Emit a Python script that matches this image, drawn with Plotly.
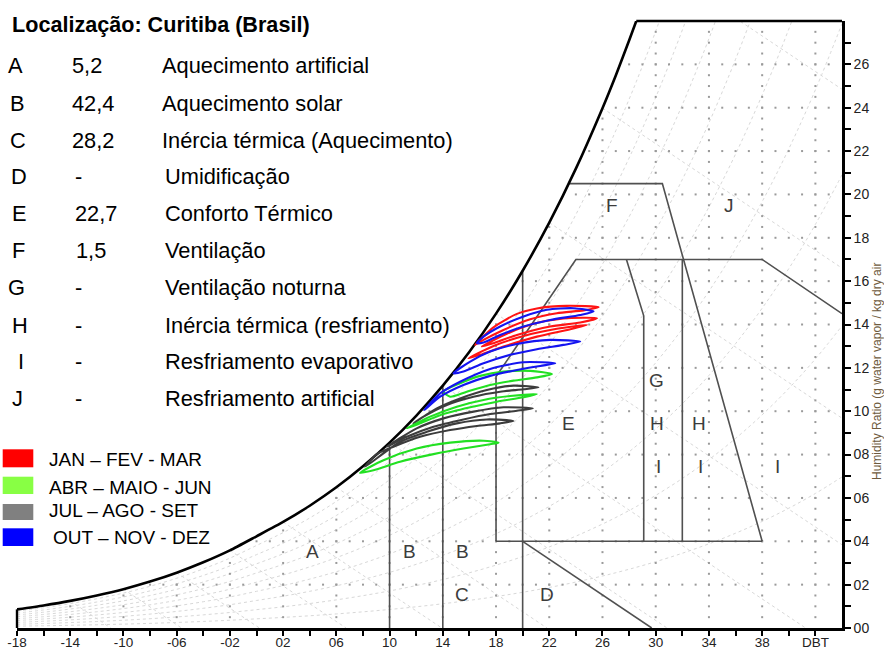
import numpy as np
import plotly.graph_objects as go

# ---------------------------------------------------------------- data
# Saturation humidity ratio (g/kg dry air) vs dry-bulb temperature (°C)
sat_T = [-18, -16, -14, -12, -10, -8, -6, -4, -2, 0, 2, 4, 6, 8, 10, 12, 14, 16,
         18, 20, 22, 24, 26, 27, 28, 28.54, 30, 32, 34, 36, 38, 40, 42, 44]
sat_W = [0.86, 1.04, 1.25, 1.50, 1.79, 2.14, 2.55, 3.03, 3.58, 4.23, 4.89, 5.64,
         6.49, 7.46, 8.55, 9.79, 11.18, 12.74, 14.50, 16.48, 18.70, 21.19, 23.98,
         25.49, 27.10, 28.00, 30.59, 34.48, 38.84, 43.72, 49.17, 55.25, 62.06, 69.68]

# Hourly daily cycles per month: dry-bulb (°C) and humidity ratio (g/kg)
jan_t = [16.43, 17.81, 19.57, 21.07, 23.32, 25.71, 24.58, 22.57, 20.57, 18.56, 17.06, 16.43]
jan_w = [13.06, 13.87, 14.49, 14.74, 14.86, 14.80, 14.65, 14.52, 14.24, 13.75, 13.29, 13.06]
fev_t = [16.93, 18.81, 20.82, 23.07, 25.58, 24.33, 22.07, 19.57, 17.81, 16.93]
fev_w = [12.98, 13.57, 14.03, 14.28, 14.29, 14.09, 13.91, 13.52, 13.14, 12.98]
mar_t = [15.93, 17.81, 20.07, 22.57, 24.85, 23.58, 21.07, 18.56, 16.81, 15.93]
mar_w = [12.44, 13.01, 13.47, 13.80, 13.98, 13.78, 13.44, 12.98, 12.60, 12.44]

abr_t = [14.05, 15.30, 16.81, 18.56, 20.57, 22.20, 21.07, 19.31, 17.56, 15.80, 14.55, 14.05]
abr_w = [10.90, 11.29, 11.63, 11.83, 11.86, 11.72, 11.56, 11.41, 11.21, 10.90, 10.67, 10.90]
mai_t = [11.29, 13.05, 15.05, 17.06, 19.06, 21.07, 20.07, 18.06, 16.06, 14.05, 12.29, 11.29]
mai_w = [9.21, 9.75, 10.21, 10.52, 10.70, 10.79, 10.64, 10.44, 10.18, 9.87, 9.44, 9.21]
jun_t = [7.78, 9.54, 12.04, 14.55, 17.06, 18.19, 17.56, 15.55, 13.30, 10.79, 8.79, 7.78]
jun_w = [7.16, 7.74, 8.28, 8.55, 8.64, 8.55, 8.48, 8.28, 8.02, 7.67, 7.28, 7.16]

jul_t = [8.16, 10.79, 12.80, 15.05, 17.31, 19.31, 18.31, 16.56, 14.55, 12.29, 10.29, 9.04, 8.16]
jul_w = [7.44, 8.59, 9.05, 9.44, 9.62, 9.55, 9.44, 9.32, 9.13, 8.82, 8.36, 8.02, 7.44]
ago_t = [9.79, 12.04, 14.05, 16.31, 18.56, 20.77, 19.57, 17.56, 15.55, 13.30, 11.29, 9.79]
ago_w = [8.36, 9.21, 9.67, 9.98, 10.18, 10.13, 10.02, 9.87, 9.62, 9.28, 8.82, 8.36]
set_t = [11.79, 13.55, 15.30, 17.31, 19.31, 21.19, 20.07, 18.31, 16.31, 14.30, 12.55, 11.79]
set_w = [9.44, 10.13, 10.59, 10.98, 11.18, 11.10, 11.01, 10.90, 10.67, 10.29, 9.75, 9.44]

out_t = [12.60, 13.80, 15.30, 17.56, 20.07, 22.45, 21.32, 19.57, 17.56, 15.55, 13.80, 12.60]
out_w = [10.05, 10.82, 11.36, 11.95, 12.26, 12.21, 12.09, 11.90, 11.63, 11.21, 10.67, 10.05]
nov_t = [14.80, 16.06, 17.56, 19.57, 22.07, 24.33, 23.07, 21.07, 19.06, 17.06, 15.55, 14.80]
nov_w = [11.75, 12.29, 12.75, 13.10, 13.29, 13.21, 13.06, 12.86, 12.60, 12.21, 11.83, 11.75]
dez_t = [16.56, 17.06, 18.31, 20.07, 21.82, 23.83, 25.33, 24.33, 22.07, 20.07, 18.31, 17.06, 16.56]
dez_w = [13.14, 13.44, 13.91, 14.37, 14.68, 14.75, 14.60, 14.44, 14.21, 13.91, 13.52, 13.17, 13.14]

# Bioclimatic zone boundaries (°C, g/kg); None separates polylines
zone_t = [10, 10, None, 14, 14, None, 20, 20, None,
          18, 18, 24, 38, 44, None, 18, 38, None,
          38, 30.5, 23.45, None, 27.8, 29.1, 29.1, None,
          32, 32, None, 20, 29.7]
zone_w = [0, 8.55, None, 0, 11.18, None, 0, 16.48, None,
          4, 11.6, 17, 17, 14.5, None, 4, 4, None,
          4, 20.5, 20.5, None, 17, 14.4, 4, None,
          4, 17, None, 4, 0]

zone_labels = ["A", "B", "B", "C", "D", "E", "F", "G", "H", "H", "I", "I", "I", "J"]
zone_label_t = [4.24, 11.46, 15.45, 15.45, 21.84, 23.42, 26.73, 30.04, 30.11, 33.27, 30.19, 33.35, 39.14, 35.53]
zone_label_w = [3.54, 3.54, 3.54, 1.55, 1.55, 9.45, 19.48, 11.44, 9.45, 9.45, 7.46, 7.46, 7.46, 19.48]

# Share of annual hours per strategy (%)
strategy_codes = ["A", "B", "C", "D", "E", "F", "G", "H", "I", "J"]
strategy_values = ["5,2", "42,4", "28,2", "-", "22,7", "1,5", "-", "-", "-", "-"]
strategy_names = ["Aquecimento artificial", "Aquecimento solar",
                  "Inércia térmica (Aquecimento)", "Umidificação",
                  "Conforto Térmico", "Ventilação", "Ventilação noturna",
                  "Inércia térmica (resfriamento)", "Resfriamento evaporativo",
                  "Resfriamento artificial"]

season_labels = ["JAN – FEV - MAR", "ABR – MAIO - JUN", "JUL – AGO - SET", "OUT – NOV - DEZ"]

x_tick_vals = list(range(-18, 43, 2))
x_tick_text = ["-18", "", "-14", "", "-10", "", "-06", "", "-02", "", "02", "", "06", "",
               "10", "", "14", "", "18", "", "22", "", "26", "", "30", "", "34", "",
               "38", "", "DBT"]
y_tick_vals = list(range(0, 28))
y_tick_text = [f"{v:02d}" if v % 2 == 0 else "" for v in y_tick_vals]

# ---------------------------------------------------------------- layout helpers
FIG_W, FIG_H = 884, 650
M_L, M_R, M_T, M_B = 17, 42, 21, 22
PLOT_W = FIG_W - M_L - M_R
PLOT_H = FIG_H - M_T - M_B
T_MIN, T_MAX = -18, 44
W_MIN, W_MAX = 0, 28
FONT = "Liberation Sans, Arial, sans-serif"


def px(xp):
    return (xp - M_L) / PLOT_W


def py(yp):
    return (FIG_H - M_B - yp) / PLOT_H


def tx(t):
    return (t - T_MIN) / (T_MAX - T_MIN)


fig = go.Figure()

# ---------------------------------------------------------------- psychrometric background
# relative humidity curves (10 % ... 90 %)
for rh in [0.1, 0.2, 0.3, 0.4, 0.5, 0.6, 0.7, 0.8, 0.9]:
    fig.add_trace(go.Scatter(
        x=sat_T, y=[rh * w for w in sat_W], mode="lines",
        line=dict(color="#d8d8d8", width=1, dash="dot", shape="spline"),
        hoverinfo="skip", showlegend=False))

# wet-bulb lines every 4 °C
for twb in range(-14, 31, 4):
    w0 = sat_W[sat_T.index(twb)]
    fig.add_trace(go.Scatter(
        x=[twb, twb + w0 / 0.41], y=[w0, 0], mode="lines",
        line=dict(color="#d8d8d8", width=1, dash="dot"),
        hoverinfo="skip", showlegend=False))

# dotted grid under the saturation curve
dot_t, dot_w = [], []
for t in range(-14, 43, 4):
    top = np.interp(t, sat_T, sat_W)
    for w in np.arange(0.5, top - 0.1, 0.5):
        dot_t.append(t)
        dot_w.append(w)
for w in range(2, 27, 2):
    t0 = np.interp(w, sat_W, sat_T)
    for t in range(int(np.ceil(t0 + 0.3)), 44):
        dot_t.append(t)
        dot_w.append(w)
fig.add_trace(go.Scatter(
    x=dot_t, y=dot_w, mode="markers",
    marker=dict(symbol="square", size=2, color="#9a9a9a", line=dict(width=0)),
    hoverinfo="skip", showlegend=False))

# zone boundaries
fig.add_trace(go.Scatter(
    x=zone_t, y=zone_w, mode="lines",
    line=dict(color="#505050", width=1.6),
    hoverinfo="skip", showlegend=False))

# saturation curve
n_sat = sat_T.index(28.54) + 1
fig.add_trace(go.Scatter(
    x=sat_T[:n_sat], y=sat_W[:n_sat], mode="lines",
    line=dict(color="black", width=2.6, shape="spline", smoothing=0.6),
    hoverinfo="skip", showlegend=False))

# ---------------------------------------------------------------- monthly cycles
loops = [
    (jul_t, jul_w, "#3c3c3c"), (ago_t, ago_w, "#3c3c3c"), (set_t, set_w, "#3c3c3c"),
    (abr_t, abr_w, "#22e022"), (mai_t, mai_w, "#22e022"), (jun_t, jun_w, "#22e022"),
    (jan_t, jan_w, "#ff1414"), (fev_t, fev_w, "#ff1414"), (mar_t, mar_w, "#ff1414"),
    (out_t, out_w, "#1414f0"), (nov_t, nov_w, "#1414f0"), (dez_t, dez_w, "#1414f0"),
]
for lt, lw, col in loops:
    fig.add_trace(go.Scatter(
        x=lt, y=lw, mode="lines",
        line=dict(color=col, width=2.1, shape="spline", smoothing=0.7),
        hoverinfo="skip", showlegend=False))

# ---------------------------------------------------------------- frame pieces
shapes = [
    # top border from the saturation curve to the right axis
    dict(type="line", xref="paper", yref="paper", x0=tx(28.54), x1=1.0, y0=1.0, y1=1.0,
         line=dict(color="black", width=2.4)),
    # left border under the saturation curve
    dict(type="line", xref="paper", yref="y", x0=0, x1=0, y0=0, y1=sat_W[0],
         line=dict(color="black", width=2.4)),
]

# legend swatches
swatch_colors = ["#ff0000", "#88ff44", "#808080", "#0000ff"]
swatch_px = [(449.3, 467.3), (476.7, 494.0), (504.0, 520.0), (528.3, 546.0)]
for col, (y0, y1) in zip(swatch_colors, swatch_px):
    shapes.append(dict(type="rect", xref="paper", yref="paper",
                       x0=px(2.7), x1=px(33.3), y0=py(y1), y1=py(y0),
                       fillcolor=col, line=dict(width=0)))

annotations = []

# title
annotations.append(dict(
    text="<b>Localização: Curitiba (Brasil)</b>", xref="paper", yref="paper",
    x=px(9.5), y=py(24), xanchor="left", yanchor="middle", showarrow=False,
    font=dict(family=FONT, size=21.6, color="black")))

# strategy table
row_y = [65.7, 103.3, 140.0, 176.7, 213.3, 250.7, 287.3, 325.0, 361.7, 398.3]
code_x = [6, 8, 8, 9, 10, 10, 6, 10, 16, 10]
value_x = [70, 70, 70, 73, 73, 74, 73, 73, 73, 73]
name_x = [160, 160, 160, 163, 163, 163, 163, 163, 163, 163]
for i in range(len(strategy_codes)):
    for txt, xx in ((strategy_codes[i], code_x[i]), (strategy_values[i], value_x[i]),
                    (strategy_names[i], name_x[i])):
        annotations.append(dict(
            text=txt, xref="paper", yref="paper", x=px(xx), y=py(row_y[i]),
            xanchor="left", yanchor="middle", showarrow=False,
            font=dict(family=FONT, size=21.8, color="black")))

# season legend text
legend_y = [459.3, 487.0, 510.0, 537.3]
legend_x = [47, 47, 47, 51]
for lab, yy, xx in zip(season_labels, legend_y, legend_x):
    annotations.append(dict(
        text=lab, xref="paper", yref="paper", x=px(xx), y=py(yy),
        xanchor="left", yanchor="middle", showarrow=False,
        font=dict(family=FONT, size=19, color="black")))

# zone letters
for lab, t, w in zip(zone_labels, zone_label_t, zone_label_w):
    annotations.append(dict(
        text=lab, x=t, y=w, xref="x", yref="y", xanchor="center", yanchor="middle",
        showarrow=False, font=dict(family=FONT, size=19, color="#3c3c3c")))

# right axis title
annotations.append(dict(
    text="Humidity Ratio (g water vapor / kg dry air", xref="paper", yref="paper",
    x=px(877), y=py(372), xanchor="center", yanchor="middle", textangle=-90,
    showarrow=False, font=dict(family=FONT, size=12, color="#6e5a3c")))

fig.update_layout(
    width=FIG_W, height=FIG_H, autosize=False,
    margin=dict(l=M_L, r=M_R, t=M_T, b=M_B, pad=0, autoexpand=False),
    paper_bgcolor="white", plot_bgcolor="white",
    shapes=shapes, annotations=annotations, showlegend=False,
    xaxis=dict(range=[T_MIN, T_MAX], showgrid=False, zeroline=False, automargin=False,
               showline=True, linecolor="black", linewidth=3,
               ticks="outside", ticklen=5, tickwidth=1.5, tickcolor="black",
               ticklabelstandoff=-5,
               tickmode="array", tickvals=x_tick_vals, ticktext=x_tick_text,
               tickfont=dict(family=FONT, size=13.5, color="#222")),
    yaxis=dict(range=[W_MIN, W_MAX], side="right", showgrid=False, zeroline=False,
               automargin=False,
               showline=True, linecolor="black", linewidth=2.6,
               ticks="outside", ticklen=6, tickwidth=1.5, tickcolor="black",
               tickmode="array", tickvals=y_tick_vals, ticktext=y_tick_text,
               tickfont=dict(family=FONT, size=14, color="#222")),
)

fig.write_html("out.html")
